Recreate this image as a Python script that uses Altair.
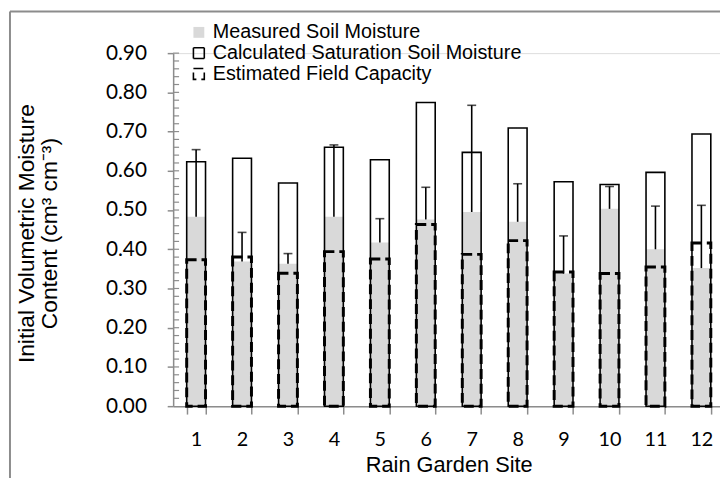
import altair as alt
import pandas as pd

sites = [str(i) for i in range(1, 13)]
measured = [0.483, 0.369, 0.363, 0.483, 0.417, 0.476, 0.495, 0.470, 0.338, 0.503, 0.400, 0.352]
measured_sd = [0.171, 0.074, 0.026, 0.183, 0.061, 0.082, 0.272, 0.097, 0.096, 0.057, 0.110, 0.160]
saturation = [0.623, 0.632, 0.569, 0.660, 0.628, 0.774, 0.647, 0.709, 0.572, 0.565, 0.596, 0.694]
field_capacity = [0.373, 0.380, 0.339, 0.394, 0.375, 0.463, 0.387, 0.422, 0.342, 0.338, 0.355, 0.416]
series_names = ["Measured Soil Moisture", "Calculated Saturation Soil Moisture", "Estimated Field Capacity"]
y_major = [0.0, 0.1, 0.2, 0.3, 0.4, 0.5, 0.6, 0.7, 0.8, 0.9]
y_minor = [round(0.02 * i, 2) for i in range(1, 46)]

df_meas = pd.DataFrame({"site": sites, "value": measured, "series": series_names[0],
                        "upper": [m + s for m, s in zip(measured, measured_sd)]})
df_sat = pd.DataFrame({"site": sites, "value": saturation, "series": series_names[1]})
df_fc = pd.DataFrame({"site": sites, "value": field_capacity, "series": series_names[2]})
df_minor = pd.DataFrame({"value": y_minor})

GRAY_AXIS = "#8c8c8c"
STEP = 46.45
x_scale = alt.Scale(domain=sites, range=[0, STEP * 12], paddingInner=0.59, paddingOuter=0.295)
y_scale = alt.Scale(domain=[0, 0.9], nice=False, zero=True)

x_axis = alt.Axis(title="Rain Garden Site", labelAngle=0, tickBand="extent", grid=False,
                  domainColor=GRAY_AXIS, tickColor=GRAY_AXIS, tickSize=8, domainWidth=1.5, tickWidth=1.5,
                  labelFont="Lato", labelFontSize=20, labelColor="black", labelPadding=16,
                  titleFont="Liberation Sans", titleFontSize=22, titleFontWeight="normal",
                  titleColor="black", titlePadding=5)
y_axis = alt.Axis(values=y_major, format=".2f", grid=False, labelOverlap=False,
                  title=["Initial Volumetric Moisture", "Content (cm\u00b3 cm\u207b\u00b3)"],
                  domainColor=GRAY_AXIS, tickColor=GRAY_AXIS, tickSize=6, domainWidth=1.5, tickWidth=1.5,
                  labelFont="Lato", labelFontSize=21, labelColor="black", labelPadding=21,
                  titleFont="Liberation Sans", titleFontSize=23, titleFontWeight="normal", titleColor="black",
                  titleLineHeight=23, titleX=-148, titleY=182, titleBaseline="middle", titleAngle=270)

fill_scale = alt.Scale(domain=series_names, range=["#d9d9d9", "transparent", "transparent"])
stroke_scale = alt.Scale(domain=series_names, range=["transparent", "black", "black"])
dash_scale = alt.Scale(domain=series_names, range=[[1, 0], [1, 0], [10, 5]])
legend = alt.Legend(title=None, orient="none", legendX=16, legendY=-31, padding=0,
                    symbolType="square", symbolSize=121, symbolStrokeWidth=1.6,
                    labelFont="Liberation Sans", labelFontSize=20, labelColor="black", labelLimit=0,
                    labelOffset=4, rowPadding=1, symbolOffset=0)

x_enc = alt.X("site:O", scale=x_scale, sort=sites, axis=x_axis)


def y_enc(field="value"):
    return alt.Y(f"{field}:Q", scale=y_scale, axis=y_axis, stack=None)


def enc():
    return dict(
        x=x_enc,
        y=y_enc(),
        fill=alt.Fill("series:N", scale=fill_scale, legend=legend, sort=series_names),
        stroke=alt.Stroke("series:N", scale=stroke_scale, legend=legend, sort=series_names),
        strokeDash=alt.StrokeDash("series:N", scale=dash_scale, legend=legend, sort=series_names),
    )


meas = alt.Chart(df_meas).mark_bar(strokeWidth=0).encode(**enc())
sat = alt.Chart(df_sat).mark_bar(strokeWidth=1.6).encode(**enc())
fc = alt.Chart(df_fc).mark_bar(strokeWidth=3).encode(**enc())

err_rule = alt.Chart(df_meas).mark_rule(color="black", strokeWidth=1.6).encode(
    x=x_enc, y=y_enc(), y2="upper:Q")
err_cap = alt.Chart(df_meas).mark_tick(color="black", thickness=1.6, size=9, orient="horizontal").encode(
    x=x_enc, y=y_enc("upper"))

minor = alt.Chart(df_minor).mark_rule(color=GRAY_AXIS, strokeWidth=1.2).encode(
    y=y_enc(), x=alt.value(0), x2=alt.value(6))

frame_top = alt.Chart(df_minor.head(1)).mark_rule(color="#8c8c8c", strokeWidth=2).encode(
    x=alt.value(-165), x2=alt.value(560), y=alt.value(-42))
frame_left = alt.Chart(df_minor.head(1)).mark_rule(color="#8c8c8c", strokeWidth=2).encode(
    x=alt.value(-165), y=alt.value(-42), y2=alt.value(430))

chart = alt.layer(meas, sat, err_rule, err_cap, fc, minor, frame_top, frame_left).properties(
    width=553, height=357,
    autosize=alt.AutoSizeParams(type="none"),
    padding={"left": 167, "top": 43, "right": 0, "bottom": 70},
).configure_view(stroke=None).configure_axis(grid=False).configure(background="white")

chart.save("out.html", embed_options={"renderer": "svg", "actions": False})
